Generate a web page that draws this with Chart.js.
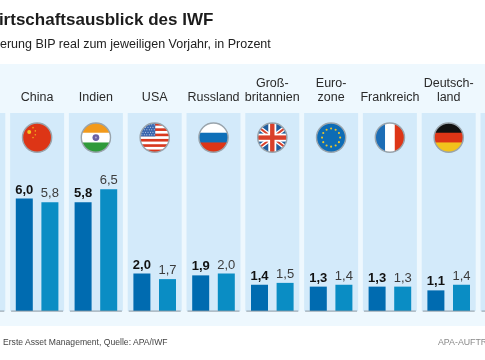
<!DOCTYPE html>
<html lang="de">
<head>
<meta charset="utf-8">
<title>Wirtschaftsausblick des IWF</title>
<script src="https://cdn.jsdelivr.net/npm/chart.js@4"></script>
<style>
html,body{margin:0;padding:0;background:#fff;width:485px;height:360px;overflow:hidden;font-family:"Liberation Sans",Arial,sans-serif}
#wrap{position:relative;width:485px;height:360px;overflow:hidden}
canvas{position:absolute;left:0;top:0}
.t{position:absolute;white-space:nowrap}
#title{left:-17px;top:9.5px;font-size:17px;font-weight:bold;color:#1c1c1c}
#sub{left:0;top:37px;font-size:12.5px;color:#222}
#src{left:3px;top:337px;font-size:8.6px;color:#444}
#mark{left:438px;top:337px;font-size:8.8px;color:#8a8a8a}
</style>
</head>
<body>
<div id="wrap">
<canvas id="c" width="485" height="360"></canvas>
<div class="t" id="title">Wirtschaftsausblick des IWF</div>
<div class="t" id="sub">erung BIP real zum jeweiligen Vorjahr, in Prozent</div>
<div class="t" id="src">Erste Asset Management, Quelle: APA/IWF</div>
<div class="t" id="mark">APA-AUFTR</div>
</div>
<script>
const categories = [["China"],["Indien"],["USA"],["Russland"],["Groß-","britannien"],["Euro-","zone"],["Frankreich"],["Deutsch-","land"]];
const flagCodes = ["cn","in","us","ru","gb","eu","fr","de"];
const seriesDark = [6.0,5.8,2.0,1.9,1.4,1.3,1.3,1.1];
const seriesLight = [5.8,6.5,1.7,2.0,1.5,1.4,1.3,1.4];

const COL_HALF = 27, FLAG_Y = 137.6, FLAG_R = 14.6;

function clipFlag(ctx,x,y,r,draw){
  ctx.save();
  ctx.beginPath();ctx.arc(x,y,r,0,Math.PI*2);ctx.clip();
  ctx.translate(x-r,y-r);
  draw(ctx,2*r);
  ctx.restore();
  ctx.beginPath();ctx.arc(x,y,r,0,Math.PI*2);
  ctx.lineWidth=1.4;ctx.strokeStyle="#99a4ac";ctx.stroke();
}
function bandsH(ctx,s,cols){cols.forEach((c,i)=>{ctx.fillStyle=c;ctx.fillRect(0,s*i/cols.length,s,s/cols.length+.5);});}
function bandsV(ctx,s,cols){cols.forEach((c,i)=>{ctx.fillStyle=c;ctx.fillRect(s*i/cols.length,0,s/cols.length+.5,s);});}
function dot(ctx,x,y,r,c){ctx.fillStyle=c;ctx.beginPath();ctx.arc(x,y,r,0,Math.PI*2);ctx.fill();}
const flagPainters={
  cn(ctx,s){ctx.fillStyle="#dd3516";ctx.fillRect(0,0,s,s);
    dot(ctx,s*.23,s*.31,2,"#f4c51f");
    [[.36,.16],[.44,.27],[.44,.4],[.36,.5]].forEach(p=>dot(ctx,s*p[0],s*p[1],.8,"#f0a81f"));},
  in(ctx,s){bandsH(ctx,s,["#f29a1c","#ffffff","#2f9a3a"]);
    dot(ctx,s/2,s/2,3.4,"#6a5fa3");dot(ctx,s/2,s/2,1,"#a9a4cc");},
  us(ctx,s){const cols=[];for(let i=0;i<11;i++)cols.push(i%2?"#ffffff":"#d9381e");bandsH(ctx,s,cols);
    ctx.fillStyle="#3a66ad";ctx.fillRect(0,0,s*.52,s*.46);
    for(let r=0;r<5;r++)for(let c=0;c<6;c++)dot(ctx,s*(.06+c*.085+(r%2)*.04),s*(.06+r*.085),.5,"#dfe8f5");},
  ru(ctx,s){bandsH(ctx,s,["#ffffff","#0e6fb8","#dd3516"]);},
  gb(ctx,s){ctx.fillStyle="#1f5e9e";ctx.fillRect(0,0,s,s);
    ctx.lineCap="butt";
    ctx.strokeStyle="#ffffff";ctx.lineWidth=4.6;
    ctx.beginPath();ctx.moveTo(0,s*.12);ctx.lineTo(s,s*.88);ctx.moveTo(0,s*.88);ctx.lineTo(s,s*.12);ctx.stroke();
    ctx.strokeStyle="#d9402a";ctx.lineWidth=2;
    ctx.beginPath();ctx.moveTo(0,s*.12);ctx.lineTo(s,s*.88);ctx.moveTo(0,s*.88);ctx.lineTo(s,s*.12);ctx.stroke();
    ctx.fillStyle="#ffffff";ctx.fillRect(s*.5-4,0,8,s);ctx.fillRect(0,s*.5-4,s,8);
    ctx.fillStyle="#d9402a";ctx.fillRect(s*.5-2.2,0,4.4,s);ctx.fillRect(0,s*.5-2.2,s,4.4);},
  eu(ctx,s){ctx.fillStyle="#0e6cb5";ctx.fillRect(0,0,s,s);
    for(let k=0;k<12;k++){const a=k*Math.PI/6;dot(ctx,s/2+Math.cos(a)*s*.31,s/2+Math.sin(a)*s*.31,1.05,"#ecc52a");}},
  fr(ctx,s){bandsV(ctx,s,["#1c6db5","#ffffff","#dd3516"]);},
  de(ctx,s){bandsH(ctx,s,["#111111","#dd3516","#f2c21c"]);}
};

const backdrop={
  id:"backdrop",
  beforeDraw(chart){
    const {ctx,scales:{x},chartArea:a}=chart;
    ctx.save();
    ctx.fillStyle="#eef8fe";ctx.fillRect(0,64,485,262);
    for(let i=0;i<=categories.length+1;i++){
      const cx=x.getPixelForValue(i);
      ctx.fillStyle="#d3eafa";ctx.fillRect(cx-COL_HALF,a.top,COL_HALF*2,a.bottom-a.top);
    }
    ctx.restore();
  },
  afterDatasetsDraw(chart){
    const {ctx,scales:{x},chartArea:a}=chart;
    ctx.save();
    ctx.fillStyle="#8b98a3";
    for(let i=0;i<=categories.length+1;i++){
      const cx=x.getPixelForValue(i);
      ctx.fillRect(cx-26,a.bottom-.4,52,1);
    }
    flagCodes.forEach((code,i)=>{
      clipFlag(ctx,x.getPixelForValue(i+1),FLAG_Y,FLAG_R,flagPainters[code]);
    });
    ctx.restore();
  }
};
const valueLabels={
  id:"valueLabels",
  afterDatasetsDraw(chart){
    const {ctx}=chart;
    ctx.save();
    ctx.textAlign="center";ctx.textBaseline="alphabetic";
    chart.data.datasets.forEach((ds,d)=>{
      ctx.font=(d===0?"bold 13px":"13px")+' "Liberation Sans"';
      ctx.fillStyle=d===0?"#111":"#3c3c3c";
      chart.getDatasetMeta(d).data.forEach((bar,i)=>{
        ctx.fillText(ds.data[i].y.toFixed(1).replace(".",","),bar.x,bar.y-5);
      });
    });
    ctx.restore();
  }
};

new Chart(document.getElementById("c"),{
  type:"bar",
  data:{datasets:[
    {label:"Prognose 1",data:categories.map((c,i)=>({x:i+1,y:seriesDark[i]})),backgroundColor:"#006bb0"},
    {label:"Prognose 2",data:categories.map((c,i)=>({x:i+1,y:seriesLight[i]})),backgroundColor:"#0a8dc4"}
  ]},
  options:{
    responsive:false,animation:false,
    layout:{padding:{left:0,right:0,top:0,bottom:49}},
    categoryPercentage:.871,barPercentage:.664,
    plugins:{legend:{display:false},tooltip:{enabled:false},title:{display:false}},
    scales:{
      x:{
        type:"linear",position:"top",offset:false,
        min:1-37.1/58.8,max:1+(485-37.1)/58.8,
        grid:{display:false,drawTicks:false,offset:false},border:{display:false},
        afterBuildTicks(ax){ax.ticks=categories.map((c,i)=>({value:i+1}));},
        afterFit(ax){ax.height=113;},
        ticks:{autoSkip:false,maxRotation:0,minRotation:0,padding:8,color:"#2a2a2a",
          font:{family:'"Liberation Sans"',size:12.5,lineHeight:1.12},
          callback(v){return categories[v-1];}}
      },
      y:{display:false,min:0,max:10.56}
    }
  },
  plugins:[backdrop,valueLabels]
});
</script>
</body>
</html>
